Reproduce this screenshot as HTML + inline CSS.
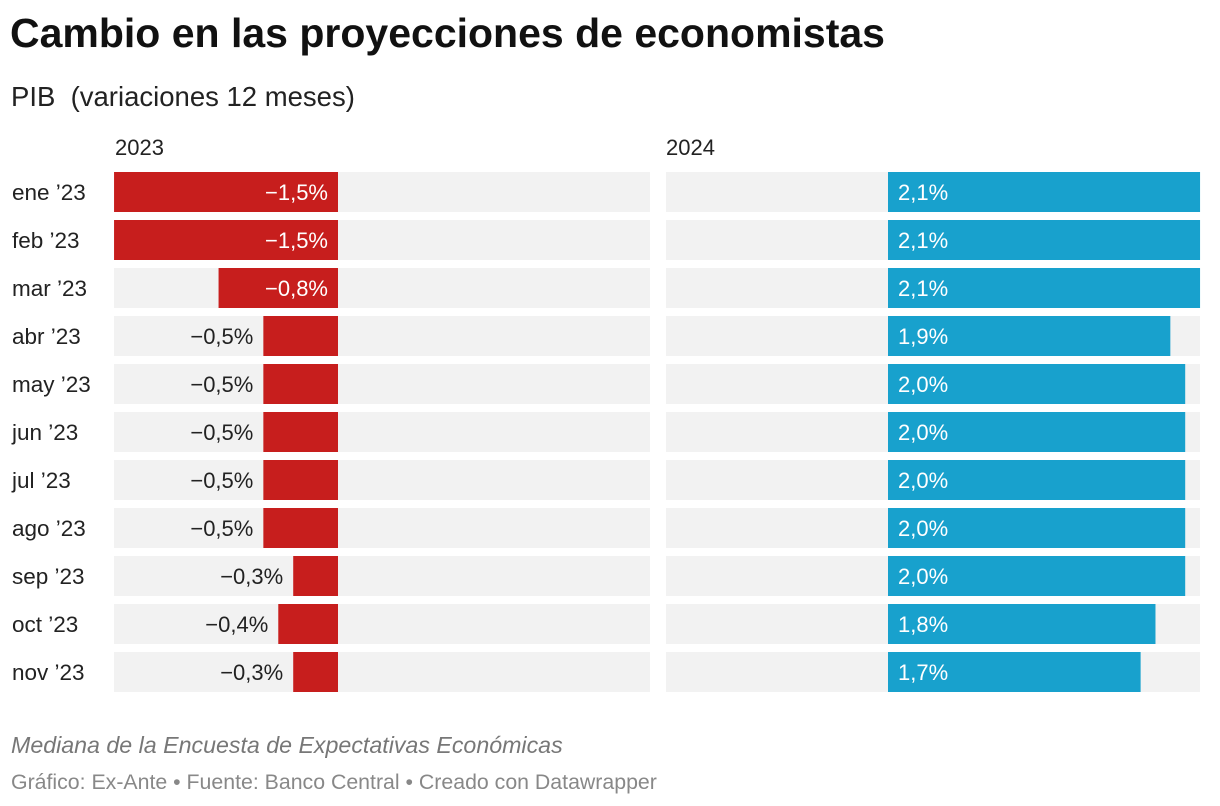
<!DOCTYPE html>
<html><head><meta charset="utf-8">
<style>
body{margin:0;width:1220px;height:806px;background:#fff;font-family:"Liberation Sans",Arial,sans-serif;overflow:hidden;position:relative}
.t{position:absolute;white-space:nowrap}
</style></head><body>
<div class="t" style="left:10px;top:10px;font-size:41px;font-weight:bold;color:#111">Cambio en las proyecciones de economistas</div>
<div class="t" style="left:11px;top:81px;font-size:27.5px;color:#222">PIB&nbsp; (variaciones 12 meses)</div>
<div class="t" style="left:115px;top:135px;font-size:22px;color:#222">2023</div>
<div class="t" style="left:666px;top:135px;font-size:22px;color:#222">2024</div>
<svg id="chart" width="1220" height="806" style="position:absolute;left:0;top:0"></svg>
<div class="t" style="left:11px;top:732px;font-size:23.2px;font-style:italic;color:#777">Mediana de la Encuesta de Expectativas Económicas</div>
<div class="t" style="left:11px;top:770px;font-size:21.3px;color:#888">Gráfico: Ex-Ante • Fuente: Banco Central • Creado con Datawrapper</div>
<script>
const categories=["ene ’23","feb ’23","mar ’23","abr ’23","may ’23","jun ’23","jul ’23","ago ’23","sep ’23","oct ’23","nov ’23"];
const values2023=[-1.5,-1.5,-0.8,-0.5,-0.5,-0.5,-0.5,-0.5,-0.3,-0.4,-0.3];
const values2024=[2.1,2.1,2.1,1.9,2.0,2.0,2.0,2.0,2.0,1.8,1.7];
const NS="http://www.w3.org/2000/svg";
const svg=document.getElementById('chart');
function x23(v){return 338+v*149.3;}
function x24(v){return 888+v*148.6;}
function yRow(i){return 172+i*48;}
function fmt(v){return (v<0?"−":"")+Math.abs(v).toFixed(1).replace('.',',')+"%";}
function mk(tag,attrs,parent){const e=document.createElementNS(NS,tag);for(const k in attrs)e.setAttribute(k,attrs[k]);(parent||svg).appendChild(e);return e;}
categories.forEach((c,i)=>{
  const y=yRow(i);
  const lab=mk('text',{x:12,y:y+28,'font-size':22.5,fill:'#222'});
  
  
  lab.textContent=c;
  const bg1=mk('rect',{x:114,y:y,width:536,height:40,fill:'#f2f2f2'});
  
  
  const bg2=mk('rect',{x:666,y:y,width:534,height:40,fill:'#f2f2f2'});
  
  
  const v=values2023[i];const xl=x23(v);
  const b=mk('rect',{x:xl,y:y,width:338-xl,height:40,fill:'#c71e1d'});
  
  
  const inside=(338-xl)>100;
  const t=mk('text',{x:inside?328:xl-10,y:y+28,'font-size':22,'text-anchor':'end',fill:inside?'#fff':'#222'});
  
  
  t.textContent=fmt(v);
  const w=values2024[i];
  const b2=mk('rect',{x:888,y:y,width:x24(w)-888,height:40,fill:'#18a1cd'});
  
  
  const t2=mk('text',{x:898,y:y+28,'font-size':22,fill:'#fff'});
  
  
  t2.textContent=fmt(w);
});
</script>
</body></html>
